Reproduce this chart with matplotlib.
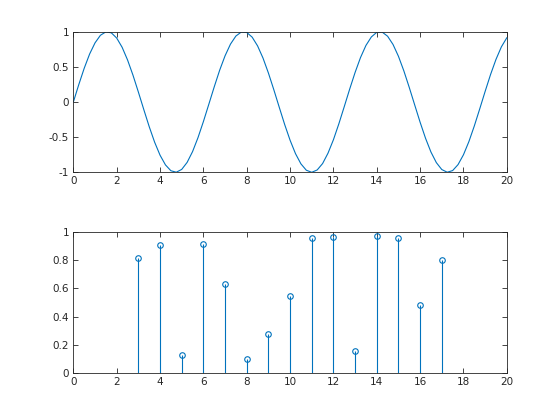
import matplotlib
matplotlib.use('Agg')
import matplotlib.pyplot as plt

# top: sin curve
x_wave = [i * 0.25 for i in range(81)]
y_wave = [0.000, 0.247, 0.479, 0.682, 0.841, 0.949, 0.997, 0.984, 0.909, 0.778,
          0.598, 0.382, 0.141, -0.108, -0.351, -0.572, -0.757, -0.895, -0.978, -0.999,
          -0.959, -0.859, -0.706, -0.508, -0.279, -0.033, 0.215, 0.451, 0.657, 0.823,
          0.938, 0.995, 0.989, 0.922, 0.798, 0.625, 0.412, 0.174, -0.075, -0.320,
          -0.544, -0.735, -0.880, -0.971, -1.000, -0.967, -0.876, -0.728, -0.537, -0.311,
          -0.066, 0.183, 0.420, 0.632, 0.804, 0.925, 0.991, 0.994, 0.935, 0.818,
          0.650, 0.442, 0.206, -0.042, -0.288, -0.516, -0.712, -0.863, -0.961, -0.999,
          -0.976, -0.891, -0.751, -0.564, -0.342, -0.099, 0.150, 0.390, 0.605, 0.784,
          0.913]

# bottom: stem values
x_stem = [3, 4, 5, 6, 7, 8, 9, 10, 11, 12, 13, 14, 15, 16, 17]
y_stem = [0.8147, 0.9058, 0.1270, 0.9134, 0.6324, 0.0975, 0.2785, 0.5469,
          0.9575, 0.9649, 0.1576, 0.9706, 0.9572, 0.4854, 0.8003]

x_ticks = [0, 2, 4, 6, 8, 10, 12, 14, 16, 18, 20]
top_yticks = [-1, -0.5, 0, 0.5, 1]
top_ylabels = ['-1', '-0.5', '0', '0.5', '1']
bot_yticks = [0, 0.2, 0.4, 0.6, 0.8, 1]
bot_ylabels = ['0', '0.2', '0.4', '0.6', '0.8', '1']

blue = '#0072BD'
axcol = '#262626'

plt.rcParams['font.family'] = ['DejaVu Sans']
plt.rcParams['font.size'] = 7.5

fig = plt.figure(figsize=(5.6, 4.2), dpi=100)
ax1 = fig.add_axes([0.131, 0.5898, 0.774, 0.3348])
ax2 = fig.add_axes([0.131, 0.1112, 0.774, 0.3371])

ax1.plot(x_wave, y_wave, color=blue, linewidth=0.8)
ax1.set_xlim(0, 20)
ax1.set_ylim(-1, 1)
ax1.set_yticks(top_yticks)
ax1.set_yticklabels(top_ylabels)

markerline, stemlines, baseline = ax2.stem(x_stem, y_stem, linefmt='-', markerfmt='o', basefmt=' ')
stemlines.set_color(blue)
stemlines.set_linewidth(0.8)
markerline.set_color(blue)
markerline.set_markerfacecolor('none')
markerline.set_markersize(4)
markerline.set_markeredgewidth(0.8)
ax2.set_xlim(0, 20)
ax2.set_ylim(0, 1)
ax2.set_yticks(bot_yticks)
ax2.set_yticklabels(bot_ylabels)

for ax in (ax1, ax2):
    ax.set_xticks(x_ticks)
    ax.tick_params(direction='in', top=True, right=True, length=3.5, width=0.6,
                   colors=axcol, labelcolor=axcol, pad=3)
    for s in ax.spines.values():
        s.set_color(axcol)
        s.set_linewidth(0.6)

fig.savefig('out.png', dpi=100)
